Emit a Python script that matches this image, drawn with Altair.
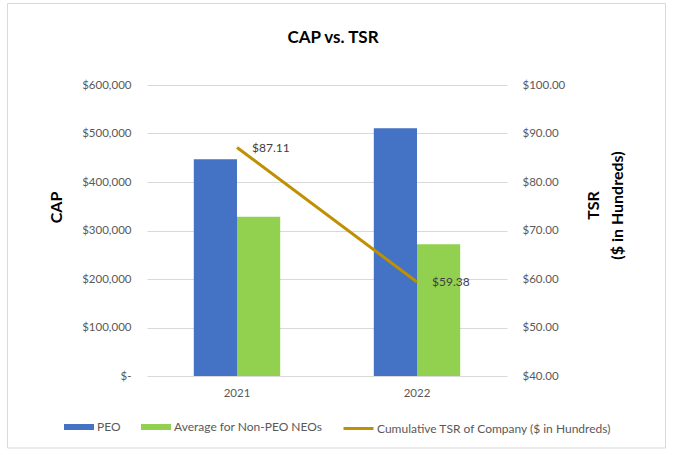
import altair as alt
import pandas as pd

# Compensation actually paid (CAP) and cumulative TSR by fiscal year
years = ["2021", "2022"]
peo_cap = [447000, 511000]
non_peo_avg_cap = [328500, 271500]
tsr = [87.11, 59.38]

series_names = ["PEO", "Average for Non-PEO NEOs"]
series_colors = ["#4472C4", "#92D050"]
tsr_name = "Cumulative TSR of Company ($ in Hundreds)"
tsr_color = "#BF9000"

FONT = "Lato"
LABEL_GRAY = "#595959"
GRID_GRAY = "#D9D9D9"

bars_df = pd.DataFrame(
    {
        "Year": years * 2,
        "Series": [series_names[0]] * len(years) + [series_names[1]] * len(years),
        "CAP": peo_cap + non_peo_avg_cap,
    }
)
tsr_df = pd.DataFrame(
    {
        "Year": years,
        "Series": [tsr_name] * len(years),
        "TSR": tsr,
        "Label": ["$" + format(v, ".2f") for v in tsr],
    }
)

x_axis = alt.Axis(
    domain=False,
    ticks=False,
    grid=False,
    labelAngle=0,
    labelPadding=11,
    labelFont=FONT,
    labelFontSize=11.5,
    labelColor=LABEL_GRAY,
)
x_scale = alt.Scale(paddingInner=0.52, paddingOuter=0.26)

bars = (
    alt.Chart(bars_df)
    .mark_bar()
    .encode(
        x=alt.X("Year:N", title=None, scale=x_scale, axis=x_axis),
        xOffset=alt.XOffset("Series:N", sort=series_names),
        y=alt.Y(
            "CAP:Q",
            scale=alt.Scale(domain=[0, 600000], nice=False),
            axis=alt.Axis(
                title="CAP",
                orient="left",
                values=[0, 100000, 200000, 300000, 400000, 500000, 600000],
                labelExpr="datum.value == 0 ? '$-' : '$' + format(datum.value, ',')",
                domain=False,
                ticks=False,
                labelPadding=16,
                labelFont=FONT,
                labelFontSize=11.5,
                labelColor=LABEL_GRAY,
                grid=True,
                gridColor=GRID_GRAY,
                gridWidth=1,
                titleFont=FONT,
                titleFontSize=16,
                titleFontWeight="bold",
                titleColor="#000000",
                titleAngle=270,
                titleBaseline="middle",
                titleX=-91,
                titleY=122,
            ),
        ),
        fill=alt.Fill(
            "Series:N",
            sort=series_names,
            scale=alt.Scale(domain=series_names, range=series_colors),
            legend=alt.Legend(
                title=None,
                orient="none",
                direction="horizontal",
                legendX=-83,
                legendY=327,
                padding=0,
                symbolType="M-1,-0.2H1V0.2H-1Z",
                symbolSize=900,
                symbolStrokeWidth=0,
                labelOffset=3,
                columnPadding=20,
                labelFont=FONT,
                labelFontSize=12,
                labelColor=LABEL_GRAY,
                labelLimit=400,
            ),
        ),
    )
)

tsr_axis = alt.Axis(
    title=["TSR", "($ in Hundreds)"],
    orient="right",
    values=[40, 50, 60, 70, 80, 90, 100],
    format="$.2f",
    domain=False,
    ticks=False,
    grid=False,
    labelPadding=15,
    labelFont=FONT,
    labelFontSize=11.5,
    labelColor=LABEL_GRAY,
    titleFont=FONT,
    titleFontSize=16,
    titleFontWeight="bold",
    titleColor="#000000",
    titleAngle=270,
    titleBaseline="middle",
    titleLineHeight=24,
    titleX=86,
    titleY=120,
)
tsr_scale = alt.Scale(domain=[40, 100], nice=False)

tsr_line = (
    alt.Chart(tsr_df)
    .mark_line(strokeWidth=3)
    .encode(
        x=alt.X("Year:N", title=None, scale=x_scale, axis=x_axis),
        y=alt.Y("TSR:Q", scale=tsr_scale, axis=tsr_axis),
        stroke=alt.Stroke(
            "Series:N",
            scale=alt.Scale(domain=[tsr_name], range=[tsr_color]),
            legend=alt.Legend(
                title=None,
                orient="none",
                direction="horizontal",
                legendX=195,
                legendY=327,
                padding=0,
                symbolType="stroke",
                symbolSize=900,
                symbolStrokeWidth=3,
                labelOffset=2,
                labelFont=FONT,
                labelFontSize=12,
                labelColor=LABEL_GRAY,
                labelLimit=400,
            ),
        ),
    )
)

tsr_labels = (
    alt.Chart(tsr_df)
    .mark_text(align="left", baseline="middle", dx=15, font=FONT, fontSize=12, color="#404040")
    .encode(
        x=alt.X("Year:N", title=None, scale=x_scale, axis=x_axis),
        y=alt.Y("TSR:Q", scale=tsr_scale, axis=tsr_axis),
        text="Label:N",
    )
)

# light border around the whole chart area, drawn as four edge rules
FRAME_L, FRAME_R, FRAME_T, FRAME_B = -139.5, 518.5, -81.5, 363
one_row = pd.DataFrame({"k": [0]})
frame_rule = alt.Chart(one_row).mark_rule(stroke=GRID_GRAY, strokeWidth=1)
frame_top = frame_rule.encode(x=alt.value(FRAME_L), x2=alt.value(FRAME_R), y=alt.value(FRAME_T))
frame_bottom = frame_rule.encode(x=alt.value(FRAME_L), x2=alt.value(FRAME_R), y=alt.value(FRAME_B))
frame_left = frame_rule.encode(x=alt.value(FRAME_L), y=alt.value(FRAME_T), y2=alt.value(FRAME_B))
frame_right = frame_rule.encode(x=alt.value(FRAME_R), y=alt.value(FRAME_T), y2=alt.value(FRAME_B))

tsr_layer = alt.layer(tsr_line, tsr_labels)

chart = (
    alt.layer(bars, tsr_layer, frame_top, frame_bottom, frame_left, frame_right)
    .resolve_scale(y="independent", fill="independent", stroke="independent")
    .properties(
        width=360,
        height=291,
        background="#FFFFFF",
        autosize=alt.AutoSizeParams(type="none"),
        padding={"left": 147, "top": 85, "right": 167, "bottom": 79},
        title=alt.Title(
            "CAP vs. TSR",
            font=FONT,
            fontSize=17,
            fontWeight="bold",
            color="#000000",
            anchor="middle",
            baseline="alphabetic",
            offset=-57,
            dx=6,
        ),
    )
    .configure_view(strokeWidth=0, strokeOpacity=0)
)

chart.save("out.html", embed_options={"renderer": "svg", "actions": False})
